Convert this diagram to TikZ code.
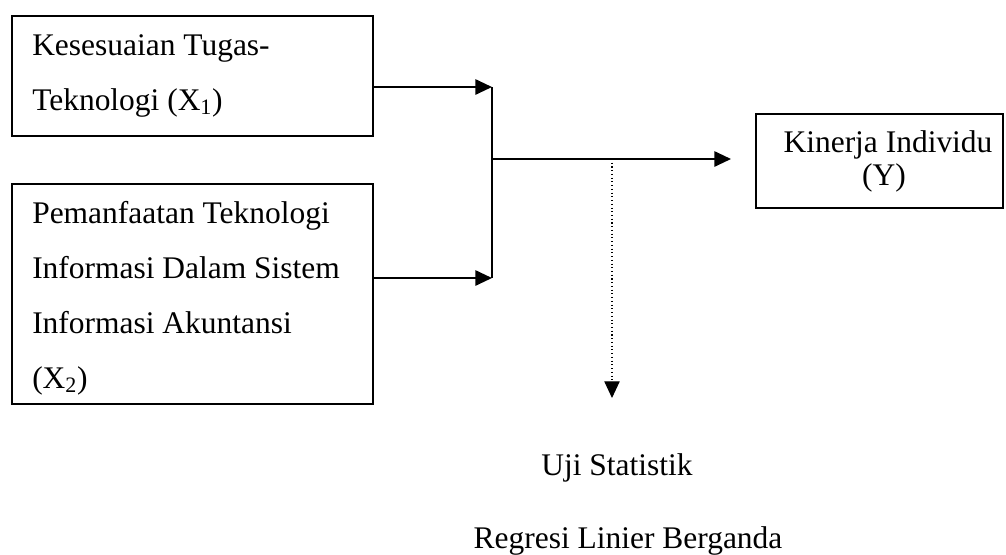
\documentclass[tikz,border=0pt]{standalone}
\usepackage{fontspec}
\setmainfont{Liberation Serif}
\usetikzlibrary{arrows.meta}
\begin{document}
\begin{tikzpicture}[x=0.75pt,y=-0.75pt,
  box/.style={draw,line width=1.4pt,minimum width=#1,inner sep=0pt,anchor=north west},
  lbl/.style={inner sep=0pt,font=\fontsize{23.6}{29}\selectfont},
  conn/.style={line width=1.4pt,-{Triangle[length=12.5pt,width=11.5pt]}},
  dotconn/.style={line width=0.8pt,dotted,-{Triangle[length=12.5pt,width=11.5pt]}}]
\useasboundingbox (0,0) rectangle (1006,554);
% boxes
\node[box=361*0.75pt,minimum height=120*0.75pt] (b1) at (11,15) {};
\node[box=361*0.75pt,minimum height=220*0.75pt] (b2) at (11,183) {};
\node[box=247*0.75pt,minimum height=94*0.75pt] (by) at (755,113) {};
% texts
\node[lbl,anchor=base west] (t11) at (32,55) {Kesesuaian Tugas-};
\node[lbl,anchor=base west] (t12) at (32,110) {Teknologi (X\textsubscript{1})};
\node[lbl,anchor=base west] (t21) at (32,223) {Pemanfaatan Teknologi};
\node[lbl,anchor=base west] (t22) at (32,278) {Informasi Dalam Sistem};
\node[lbl,anchor=base west] (t23) at (32,333) {Informasi Akuntansi};
\node[lbl,anchor=base west] (t24) at (32,388) {(X\textsubscript{2})};
\node[lbl,anchor=base] (ty1) at (888,152) {Kinerja Individu};
\node[lbl,anchor=base] (ty2) at (884,185) {(Y)};
\node[lbl,anchor=base] (u1) at (617,475) {Uji Statistik};
\node[lbl,anchor=base] (u2) at (628,548) {Regresi Linier Berganda};
% junction coordinates
\coordinate (j1) at (492,87);
\coordinate (j2) at (492,278);
\coordinate (jm) at (492,159);
\coordinate (ytip) at (731,159);
\coordinate (dtop) at (612,159);
\coordinate (dtip) at (612,398);
% connectors
\draw[conn] (b1.east |- j1) -- (j1);
\draw[conn] (b2.east |- j2) -- (j2);
\draw[line width=1.4pt] (j1) -- (j2);
\draw[conn] (jm) -- (ytip);
\draw[dotconn] (dtop) -- (dtip);
\end{tikzpicture}
\end{document}
